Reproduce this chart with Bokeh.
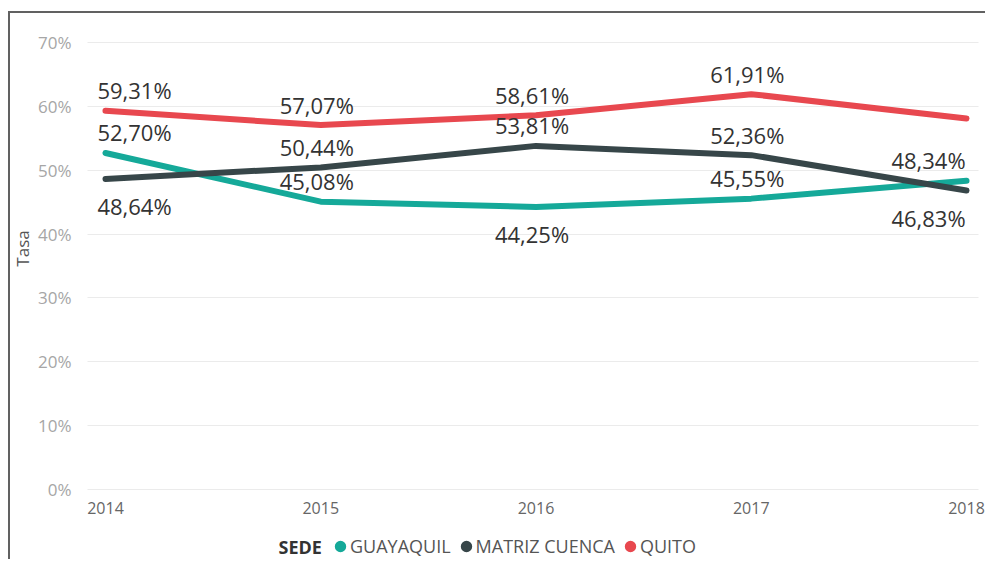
import math
from bokeh.plotting import figure
from bokeh.models import (Range1d, FixedTicker, PrintfTickFormatter, Legend, LegendItem,
                          ColumnDataSource, Label, Grid)
from bokeh.core.properties import value
from bokeh.embed import file_html
from bokeh.resources import INLINE

# ---------------- data ----------------
years = [2014, 2015, 2016, 2017, 2018]
series_names = ["GUAYAQUIL", "MATRIZ CUENCA", "QUITO"]
guayaquil = [52.70, 45.08, 44.25, 45.55, 48.34]
matriz_cuenca = [48.64, 50.44, 53.81, 52.36, 46.83]
quito = [59.31, 57.07, 58.61, 61.91, 58.10]
y_ticks = [0, 10, 20, 30, 40, 50, 60, 70]
x_ticks = years
legend_title = "SEDE"
axis_title = "Tasa"

# ---------------- styles ----------------
series_values = {"GUAYAQUIL": guayaquil, "MATRIZ CUENCA": matriz_cuenca, "QUITO": quito}
colors = {"GUAYAQUIL": "#15A999", "MATRIZ CUENCA": "#374649", "QUITO": "#E8484F"}
label_side = {
    "GUAYAQUIL": ["above", "above", "below", "above", "above"],
    "MATRIZ CUENCA": ["below", "above", "above", "above", "below"],
    "QUITO": ["above", "above", "above", "above", None],
}
FONT = "Open Sans"
PX_PER_YEAR = 215.25
has_cb = "cross_bounds" in Grid.properties()

W, H = 977, 548
if has_cb:
    # frame covers the whole figure; axes are drawn at fixed locations inside it
    left_pad = 95
    x_start = years[0] - left_pad / PX_PER_YEAR
    mb_left = 0
else:
    left_pad = 18
    x_start = years[0] - left_pad / PX_PER_YEAR
    mb_left = 77
x_end = years[-1] + 21 / PX_PER_YEAR
grid_x0 = years[0] - 18 / PX_PER_YEAR
grid_x1 = years[-1] + 12 / PX_PER_YEAR

p = figure(width=W, height=H, output_backend="svg", toolbar_location=None,
           x_range=Range1d(x_start, x_end), y_range=Range1d(-11.275, 72.036),
           min_border_left=mb_left, min_border_right=0, min_border_top=16, min_border_bottom=0)
p.styles = {"margin-left": "8px", "margin-top": "11px",
            "border-left": "2px solid #616161", "border-top": "2px solid #616161"}
p.outline_line_color = None
p.background_fill_color = "white"
p.border_fill_color = "white"

# y axis
p.yaxis.ticker = FixedTicker(ticks=y_ticks)
p.yaxis.formatter = PrintfTickFormatter(format="%d%%")
p.yaxis.axis_line_color = None
p.yaxis.major_tick_line_color = None
p.yaxis.minor_tick_line_color = None
p.yaxis.major_label_text_font = FONT
p.yaxis.major_label_text_font_size = "17px"
p.yaxis.major_label_text_color = "#a6a6a6"
p.yaxis.major_label_standoff = 10
if has_cb:
    p.yaxis.fixed_location = grid_x0
    p.add_layout(Label(x=12, y=313, x_units="screen", y_units="screen", text=axis_title,
                       angle=math.pi / 2, text_font=FONT, text_font_size="17px",
                       text_color="#555555", text_align="center", text_baseline="middle"))
else:
    p.yaxis.bounds = (y_ticks[0], y_ticks[-1])
    p.yaxis.axis_label = axis_title
    p.yaxis.axis_label_text_font = FONT
    p.yaxis.axis_label_text_font_size = "17px"
    p.yaxis.axis_label_text_font_style = "normal"
    p.yaxis.axis_label_text_color = "#555555"
    p.yaxis.axis_label_standoff = 0

# x axis drawn at y = 0 inside the frame
p.xaxis.fixed_location = 0
p.xaxis.ticker = FixedTicker(ticks=x_ticks)
p.xaxis.major_label_overrides = {y: str(y) for y in x_ticks}
p.xaxis.axis_line_color = None
p.xaxis.major_tick_line_color = None
p.xaxis.minor_tick_line_color = None
p.xaxis.major_label_text_font = FONT
p.xaxis.major_label_text_font_size = "16px"
p.xaxis.major_label_text_color = "#666666"
p.xaxis.major_label_standoff = 6

p.xgrid.grid_line_color = None
p.ygrid.ticker = FixedTicker(ticks=y_ticks)
p.ygrid.grid_line_color = "#ebebeb"
p.ygrid.grid_line_width = 1
if has_cb:
    p.ygrid.cross_bounds = (grid_x0, grid_x1)

# lines
legend_renderers = []
for name in series_names:
    vals = series_values[name]
    src = ColumnDataSource(dict(x=years, y=vals))
    p.line("x", "y", source=src, line_color=colors[name], line_width=6,
           line_cap="round", line_join="round")
    proxy = ColumnDataSource(dict(x=years, y=[math.nan] * len(years)))
    r = p.scatter("x", "y", source=proxy, marker="circle", size=10,
                  fill_color=colors[name], line_color=colors[name], line_width=5)
    legend_renderers.append((name, r))

# data labels
lx, ly, lt, xo, yo = [], [], [], [], []
n = len(years)
for name in series_names:
    vals = series_values[name]
    for i, (yr, v) in enumerate(zip(years, vals)):
        side = label_side[name][i]
        if side is None:
            continue
        lx.append(yr)
        ly.append(v)
        lt.append(f"{v:.2f}".replace(".", ",") + "%")
        xo.append(29 if i == 0 else (-38 if i == n - 1 else -4))
        yo.append(-20.5 if side == "above" else 27.5)
lsrc = ColumnDataSource(dict(x=lx, y=ly, text=lt, xo=xo, yo=yo))
p.text("x", "y", text="text", source=lsrc, text_font=value(FONT), text_font_size="22px",
       text_color="#333333", text_align="center", text_baseline="middle",
       x_offset="xo", y_offset="yo")

# legend (inside the lower part of the frame)
frame_left_page = 10 + mb_left
legend = Legend(items=[LegendItem(label=nm, renderers=[r]) for nm, r in legend_renderers],
                orientation="horizontal", location=(332 - frame_left_page, 3),
                glyph_width=16, glyph_height=16,
                label_standoff=2, spacing=7, padding=0, margin=0,
                label_text_font=FONT, label_text_font_size="18px", label_text_color="#555555",
                border_line_color=None, background_fill_alpha=0)
p.add_layout(legend)
p.add_layout(Label(x=278 - frame_left_page, y=15, x_units="screen", y_units="screen",
                   text=legend_title, text_font=FONT, text_font_size="18px",
                   text_font_style="bold", text_color="#333333",
                   text_baseline="middle", text_align="left"))

open("out.html", "w").write(file_html(p, INLINE))
